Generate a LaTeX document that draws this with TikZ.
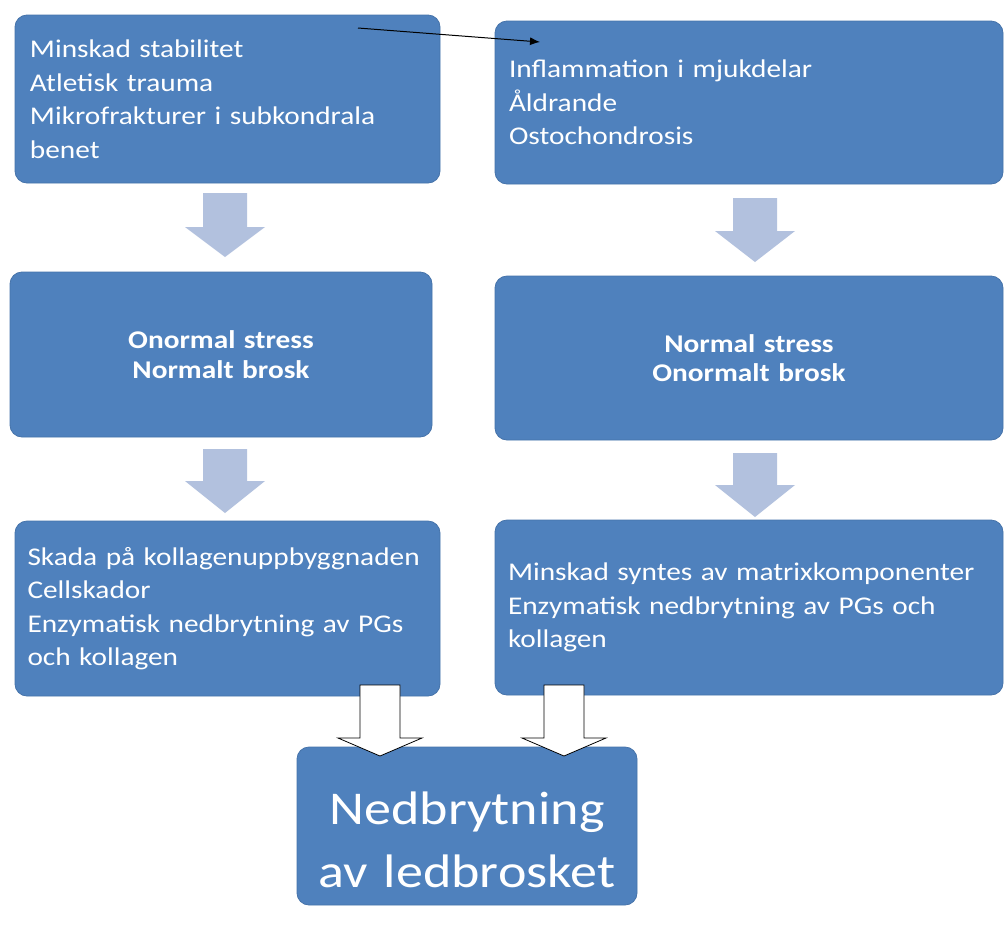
\documentclass[tikz,border=0pt]{standalone}
\usepackage{fontspec}
\setmainfont[FakeStretch=1.15,WordSpace=0.9]{Carlito}
\usetikzlibrary{arrows.meta}
\definecolor{boxblue}{RGB}{79,129,189}
\definecolor{boxedge}{RGB}{70,115,170}
\definecolor{lightarr}{RGB}{178,193,222}
\tikzset{
  box/.style={rectangle, rounded corners=12pt, fill=boxblue, draw=boxedge, line width=0.8pt,
    text=white, align=left, font=\fontsize{25.5}{33.5}\selectfont},
  cbox/.style={box, align=center, font=\bfseries\fontsize{25.5}{29.5}\selectfont},
  lightarrow/.style={fill=lightarr, draw=none},
  whitearrow/.style={fill=white, draw=black, line width=0.8pt},
}
\newcommand{\blockarr}[7]{% x, ytop, yheadstart, ytip, shaft half, head half, style
  \path[#7] (#1-#5,#2) -- (#1+#5,#2) -- (#1+#5,#3) -- (#1+#6,#3) -- (#1,#4) -- (#1-#6,#3) -- (#1-#5,#3) -- cycle;}
\begin{document}
\begin{tikzpicture}[x=1pt,y=-1pt]
\useasboundingbox[fill=white] (0,0) rectangle (1005,930);

\node[box, minimum width=425pt, minimum height=168pt, text width=395pt, inner xsep=15pt] (tl) at (227.5,99)
  {Minskad stabilitet\\Atletisk trauma\\Mikrofrakturer i subkondrala\\benet};
\node[box, minimum width=508pt, minimum height=163pt, text width=480pt, inner xsep=14pt] (tr) at (749,102.5)
  {Inflammation i mjukdelar\\Åldrande\\Ostochondrosis};
\node[cbox, minimum width=422pt, minimum height=165pt, text width=400pt] (ml) at (221,354.5)
  {Onormal stress\\Normalt brosk};
\node[cbox, minimum width=508pt, minimum height=164pt, text width=480pt] (mr) at (749,358)
  {Normal stress\\Onormalt brosk};
\node[box, minimum width=425pt, minimum height=175pt, text width=400pt, inner xsep=12.5pt] (bl) at (227.5,608.5)
  {Skada på kollagenuppbyggnaden\\Cellskador\\Enzymatisk nedbrytning av PGs\\och kollagen};
\node[box, minimum width=508pt, minimum height=175pt, text width=482pt, inner xsep=13pt] (br) at (749,607.5)
  {Minskad syntes av matrixkomponenter\\Enzymatisk nedbrytning av PGs och\\kollagen};
\node[box, align=center, minimum width=340pt, minimum height=158pt, text width=320pt,
  font=\fontsize{47}{63}\selectfont] (fin) at (467,826)
  {\rule{0pt}{60pt}Nedbrytning\\av ledbrosket};

% light block arrows
\blockarr{225}{193}{227}{257}{22}{40}{lightarrow}
\blockarr{755}{198}{231}{262}{22}{40}{lightarrow}
\blockarr{225}{449}{481}{513}{22}{40}{lightarrow}
\blockarr{755}{453}{485}{517}{22}{40}{lightarrow}

% white block arrows
\blockarr{380}{685}{738}{756}{20}{42}{whitearrow}
\blockarr{564}{685}{738}{756}{20}{42}{whitearrow}

% thin arrow
\coordinate (a0) at (358,28);
\coordinate (a1) at (540,42);
\draw[-{Latex[length=10pt,width=8pt]}, line width=1pt] (a0) -- (a1);
\end{tikzpicture}
\end{document}
